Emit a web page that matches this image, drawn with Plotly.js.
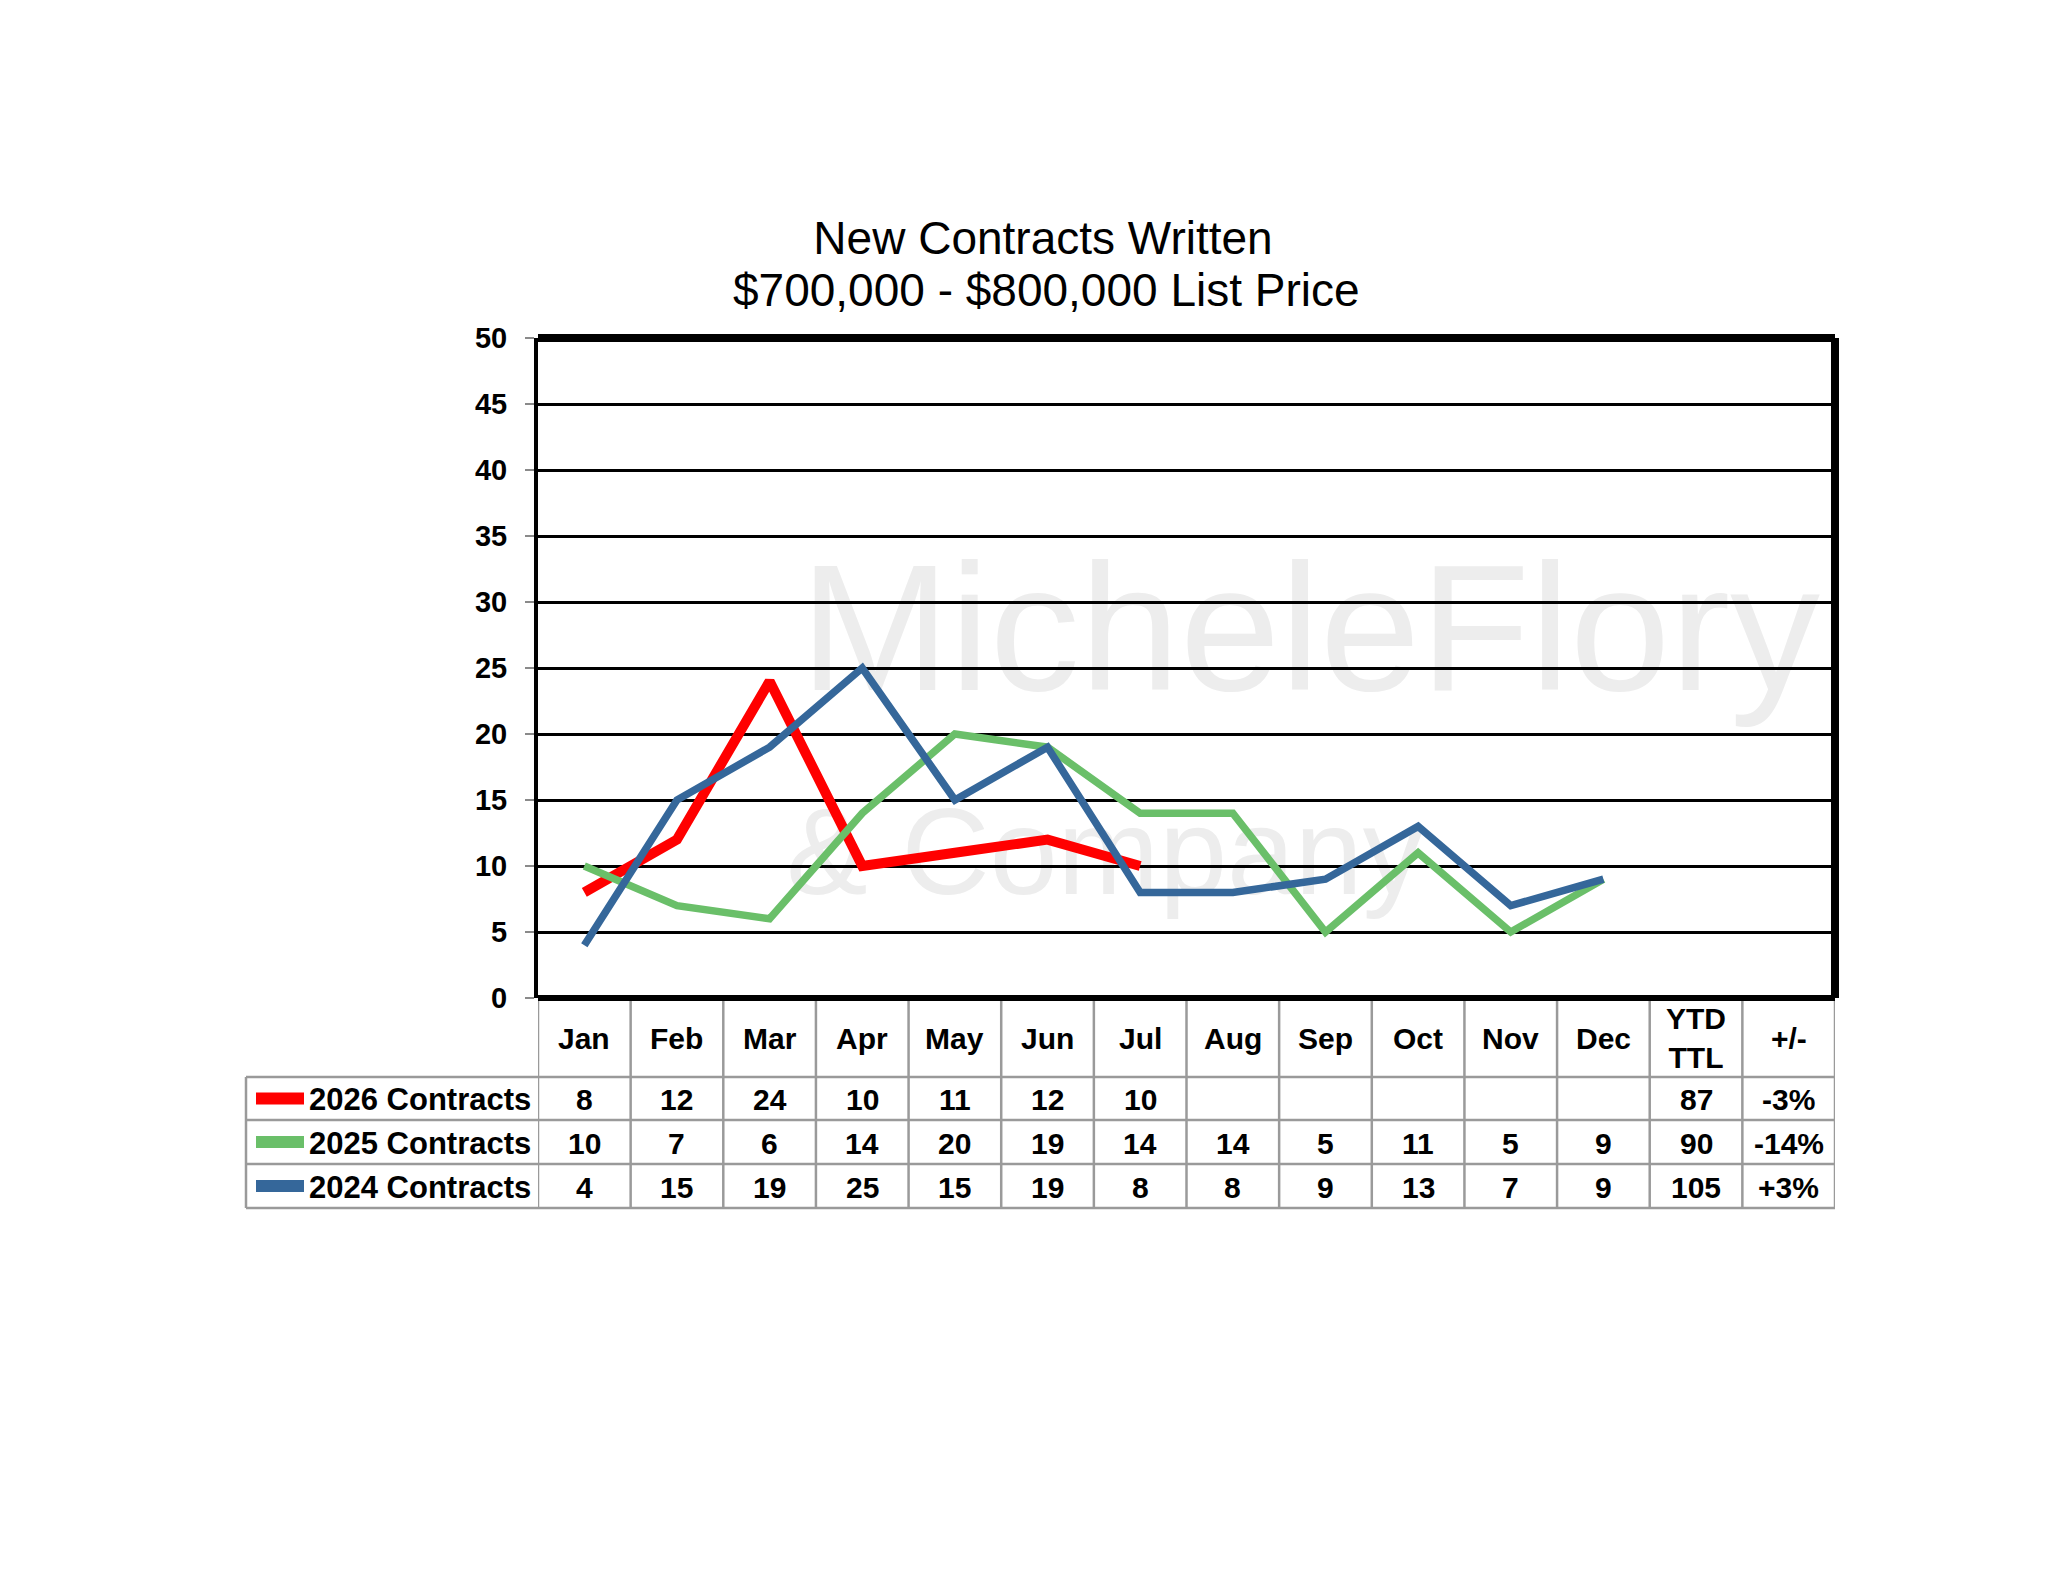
<!DOCTYPE html>
<html>
<head>
<meta charset="utf-8">
<script src="https://cdn.plot.ly/plotly-3.0.1.min.js"></script>
<style>
  html, body { margin: 0; padding: 0; background: #fff; }
  #chart { width: 2048px; height: 1583px; }
</style>
</head>
<body>
<div id="chart"></div>
<script>
// table columns / categories
var months = ['Jan', 'Feb', 'Mar', 'Apr', 'May', 'Jun', 'Jul', 'Aug', 'Sep', 'Oct', 'Nov', 'Dec'];
var extraCols = ['YTD<br>TTL', '+/-'];

// series
var seriesNames = ['2026 Contracts', '2025 Contracts', '2024 Contracts'];
var contracts2026 = [8, 12, 24, 10, 11, 12, 10, null, null, null, null, null];
var contracts2025 = [10, 7, 6, 14, 20, 19, 14, 14, 5, 11, 5, 9];
var contracts2024 = [4, 15, 19, 25, 15, 19, 8, 8, 9, 13, 7, 9];
var ytdTotal = ['87', '90', '105'];
var pctChange = ['-3%', '-14%', '+3%'];

var seriesColors = ['#ff0000', '#6abf69', '#35679a'];
var seriesWidths = [10, 7.5, 7.5];
var rows = [contracts2026, contracts2025, contracts2024];

// page geometry (pixels)
var W = 2048, H = 1583;
var plotL = 538, plotR = 1835, plotT = 338, plotB = 998;
var plotW = plotR - plotL, plotH = plotB - plotT;
function px(x) { return (x - plotL) / plotW; }
function py(y) { return (plotB - y) / plotH; }

var headerMid = 1038;
var rowLines = [1077, 1120, 1164, 1208];
var legendLeft = 246;
var font = 'Liberation Sans, Arial, sans-serif';
var gridGray = '#9a9a9a';

var cats = months.concat(extraCols);

var data = [];
rows.forEach(function (vals, i) {
    data.push({
        type: 'scatter',
        mode: 'lines',
        name: seriesNames[i],
        x: months,
        y: vals,
        line: {color: seriesColors[i], width: seriesWidths[i]},
        connectgaps: false,
        hoverinfo: 'x+y+name'
    });
});

var shapes = [];
var annotations = [];

// faint watermark, under the grid
var wmColor = '#ededed';
shapes.push({
    type: 'rect', xref: 'paper', yref: 'paper', layer: 'below',
    x0: px(805), x1: px(1815), y0: py(740), y1: py(480),
    line: {width: 0}, fillcolor: 'rgba(0,0,0,0)',
    label: {text: 'MicheleFlory', textposition: 'middle center',
        font: {family: font, size: 180, color: wmColor}}
});
shapes.push({
    type: 'rect', xref: 'paper', yref: 'paper', layer: 'below',
    x0: px(785), x1: px(1425), y0: py(925), y1: py(755),
    line: {width: 0}, fillcolor: 'rgba(0,0,0,0)',
    label: {text: '& Company', textposition: 'middle center',
        font: {family: font, size: 122, color: wmColor}}
});

// plot frame
shapes.push({type: 'line', xref: 'paper', yref: 'paper', x0: 0, x1: 1, y0: 1, y1: 1, line: {color: '#000', width: 8}});
shapes.push({type: 'line', xref: 'paper', yref: 'paper', x0: 1, x1: 1, y0: 0, y1: 1, line: {color: '#000', width: 8}});
shapes.push({type: 'line', xref: 'paper', yref: 'paper', x0: 0, x1: 1, y0: 0, y1: 0, line: {color: '#000', width: 6}});

// table grid
for (var k = 0; k <= cats.length; k++) {
    shapes.push({
        type: 'line', xref: 'x', yref: 'paper',
        x0: k - 0.5, x1: k - 0.5, y0: py(plotB + 3), y1: py(rowLines[3]),
        line: {color: gridGray, width: 2.5}
    });
}
rowLines.forEach(function (yy) {
    shapes.push({
        type: 'line', xref: 'paper', yref: 'paper',
        x0: px(legendLeft), x1: 1, y0: py(yy), y1: py(yy),
        line: {color: gridGray, width: 2.5}
    });
});
shapes.push({
    type: 'line', xref: 'paper', yref: 'paper',
    x0: px(legendLeft), x1: px(legendLeft), y0: py(rowLines[0]), y1: py(rowLines[3]),
    line: {color: gridGray, width: 2.5}
});

var cellFont = {family: font, size: 30, color: '#000', weight: 700};
var labelFont = {family: font, size: 31, color: '#000', weight: 700};

// header row
cats.forEach(function (c, k) {
    annotations.push({
        xref: 'x', yref: 'paper', x: k, y: py(headerMid),
        text: c, showarrow: false, font: cellFont,
        xanchor: 'center', yanchor: 'middle'
    });
});

// body rows
rows.forEach(function (vals, i) {
    var mid = (rowLines[i] + rowLines[i + 1]) / 2;
    var cells = vals.map(function (v) { return v === null ? '' : String(v); })
        .concat([ytdTotal[i], pctChange[i]]);
    cells.forEach(function (t, k) {
        if (t === '') return;
        annotations.push({
            xref: 'x', yref: 'paper', x: k, y: py(mid + 1),
            text: t, showarrow: false, font: cellFont,
            xanchor: 'center', yanchor: 'middle'
        });
    });
    annotations.push({
        xref: 'paper', yref: 'paper', x: px(533), y: py(mid + 1),
        text: seriesNames[i], showarrow: false, font: labelFont,
        xanchor: 'right', yanchor: 'middle'
    });
    shapes.push({
        type: 'path', xref: 'paper', yref: 'paper',
        path: 'M ' + px(256) + ' ' + py(mid) + ' L ' + px(304) + ' ' + py(mid),
        line: {color: seriesColors[i], width: 12}
    });
});

// second title line
annotations.push({
    xref: 'paper', yref: 'paper', x: px(1046), y: py(290),
    text: '$700,000 - $800,000 List Price', showarrow: false,
    font: {family: font, size: 46, color: '#000'},
    xanchor: 'center', yanchor: 'middle'
});

var layout = {
    width: W,
    height: H,
    paper_bgcolor: '#ffffff',
    plot_bgcolor: 'rgba(0,0,0,0)',
    font: {family: font, color: '#000'},
    showlegend: false,
    margin: {l: plotL, r: W - plotR, t: plotT, b: H - plotB, pad: 0},
    title: {
        text: 'New Contracts Written',
        font: {family: font, size: 46, color: '#000'},
        x: 1043 / W, xref: 'container', xanchor: 'center',
        y: 1 - 238 / H, yref: 'container', yanchor: 'middle'
    },
    xaxis: {
        type: 'category',
        categoryarray: cats,
        categoryorder: 'array',
        range: [-0.5, cats.length - 0.5],
        showticklabels: false,
        showgrid: false,
        zeroline: false,
        showline: false,
        ticks: '',
        fixedrange: true
    },
    yaxis: {
        range: [0, 50],
        dtick: 5,
        tick0: 0,
        showgrid: true,
        gridcolor: '#000',
        gridwidth: 3,
        zeroline: false,
        showline: true,
        linecolor: '#000',
        linewidth: 4,
        ticks: 'outside',
        ticklen: 9,
        tickwidth: 2,
        tickcolor: '#8a8a8a',
        ticklabelstandoff: 12,
        tickfont: {family: font, size: 29, color: '#000', weight: 700},
        fixedrange: true
    },
    shapes: shapes,
    annotations: annotations
};

Plotly.newPlot('chart', data, layout, {displayModeBar: false, staticPlot: true});
</script>
</body>
</html>
